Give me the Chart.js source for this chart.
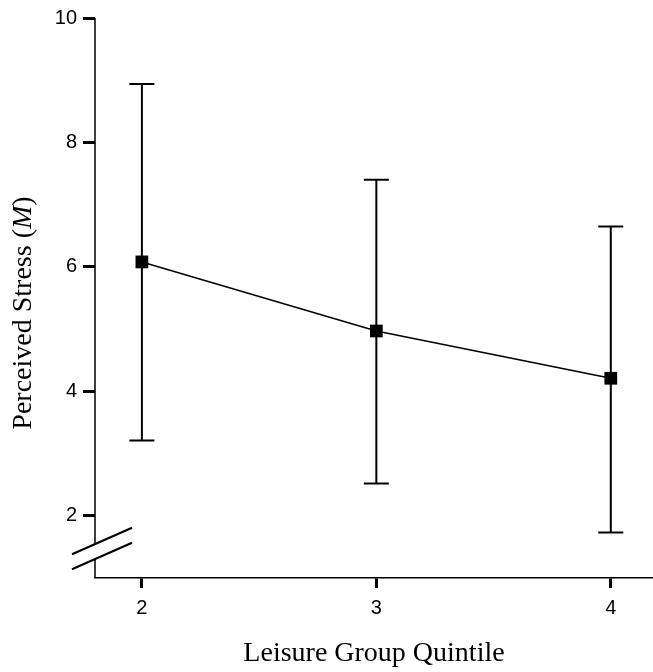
<!DOCTYPE html>
<html>
<head>
<meta charset="utf-8">
<title>Perceived Stress by Leisure Group Quintile</title>
<script src="https://cdn.jsdelivr.net/npm/chart.js@4/dist/chart.umd.min.js"></script>
<style>
    html, body { margin: 0; padding: 0; background: #fff; }
    #wrap { width: 653px; height: 672px; }
</style>
</head>
<body>
<div id="wrap"><canvas id="stressChart" width="653" height="672"></canvas></div>
<script>
// Data
const quintiles = [2, 3, 4];
const meanStress = [6.08, 4.97, 4.21];
const upperBar = [8.94, 7.40, 6.65];
const lowerBar = [3.21, 2.52, 1.73];
const xTicks = [2, 3, 4];
const yTicks = [2, 4, 6, 8, 10];
const yBreak = [1.31, 1.55]; // gap in the y axis

// Error bars, drawn under the line and markers
const errorBars = {
    id: 'errorBars',
    beforeDatasetsDraw(chart) {
        const { ctx, scales: { x, y } } = chart;
        ctx.save();
        ctx.strokeStyle = '#000';
        ctx.lineWidth = 2;
        quintiles.forEach((q, i) => {
            const px = x.getPixelForValue(q);
            const top = y.getPixelForValue(upperBar[i]);
            const bot = y.getPixelForValue(lowerBar[i]);
            ctx.beginPath();
            ctx.moveTo(px, top);
            ctx.lineTo(px, bot);
            ctx.moveTo(px - 12.5, top);
            ctx.lineTo(px + 12.5, top);
            ctx.moveTo(px - 12.5, bot);
            ctx.lineTo(px + 12.5, bot);
            ctx.stroke();
        });
        ctx.restore();
    }
};

// Y axis line with the break marks, plus the y title with italic M
const brokenAxis = {
    id: 'brokenAxis',
    afterDraw(chart) {
        const { ctx, chartArea, scales: { y } } = chart;
        const ax = chartArea.left;
        const lo = y.getPixelForValue(yBreak[0]);
        const hi = y.getPixelForValue(yBreak[1]);
        ctx.save();
        ctx.strokeStyle = '#000';
        ctx.lineWidth = 1.5;
        ctx.beginPath();
        ctx.moveTo(ax, chartArea.top);
        ctx.lineTo(ax, hi);
        ctx.moveTo(ax, lo);
        ctx.lineTo(ax, chartArea.bottom);
        ctx.stroke();

        ctx.lineWidth = 2;
        [hi, lo].forEach(py => {
            ctx.beginPath();
            ctx.moveTo(ax - 23, py + 10.5);
            ctx.lineTo(ax + 37, py - 16);
            ctx.stroke();
        });

        // y title
        const parts = [
            ['Perceived Stress (', 'normal'],
            ['M', 'italic'],
            [')', 'normal']
        ];
        const size = 28;
        let total = 0;
        parts.forEach(p => {
            ctx.font = p[1] + ' ' + size + 'px "Liberation Serif", serif';
            total += ctx.measureText(p[0]).width;
        });
        ctx.translate(24, 313);
        ctx.rotate(-Math.PI / 2);
        ctx.fillStyle = '#000';
        ctx.textBaseline = 'middle';
        let cx = -total / 2;
        parts.forEach(p => {
            ctx.font = p[1] + ' ' + size + 'px "Liberation Serif", serif';
            ctx.fillText(p[0], cx, 0);
            cx += ctx.measureText(p[0]).width;
        });
        ctx.restore();
    }
};

const ctx = document.getElementById('stressChart').getContext('2d');
new Chart(ctx, {
    type: 'line',
    data: {
        datasets: [{
            label: 'Perceived Stress',
            data: quintiles.map((q, i) => ({ x: q, y: meanStress[i] })),
            borderColor: '#000',
            borderWidth: 1.5,
            backgroundColor: '#000',
            pointStyle: 'rect',
            pointRadius: 9,
            pointBorderWidth: 0,
            tension: 0
        }]
    },
    options: {
        responsive: false,
        animation: false,
        layout: {
            autoPadding: false,
            padding: { top: 17, right: 0, left: 0, bottom: 0 }
        },
        plugins: {
            legend: { display: false },
            tooltip: { enabled: false }
        },
        scales: {
            x: {
                type: 'linear',
                min: 1.8,
                max: 4.18,
                afterBuildTicks: scale => {
                    scale.ticks = xTicks.map(v => ({ value: v }));
                },
                afterFit: scale => {
                    scale.height = 94;
                    scale.paddingLeft = 0;
                    scale.paddingRight = 0;
                },
                border: { display: true, color: '#000', width: 1.5 },
                grid: {
                    drawOnChartArea: false,
                    drawTicks: true,
                    tickLength: 10,
                    tickWidth: 3,
                    tickColor: '#000'
                },
                ticks: {
                    color: '#000',
                    padding: 8,
                    font: { family: '"Liberation Sans", Arial, sans-serif', size: 20 }
                },
                title: {
                    display: true,
                    text: 'Leisure Group Quintile',
                    color: '#000',
                    padding: { top: 0, bottom: 2 },
                    font: { family: '"Liberation Serif", serif', size: 28 }
                }
            },
            y: {
                type: 'linear',
                min: 1,
                max: 10,
                afterBuildTicks: scale => {
                    scale.ticks = yTicks.map(v => ({ value: v }));
                },
                afterFit: scale => { scale.width = 95; },
                border: { display: false },
                grid: {
                    drawOnChartArea: false,
                    drawTicks: true,
                    tickLength: 12,
                    tickWidth: 3,
                    tickColor: '#000'
                },
                ticks: {
                    color: '#000',
                    padding: 6,
                    font: { family: '"Liberation Sans", Arial, sans-serif', size: 20 }
                }
            }
        }
    },
    plugins: [errorBars, brokenAxis]
});
</script>
</body>
</html>
